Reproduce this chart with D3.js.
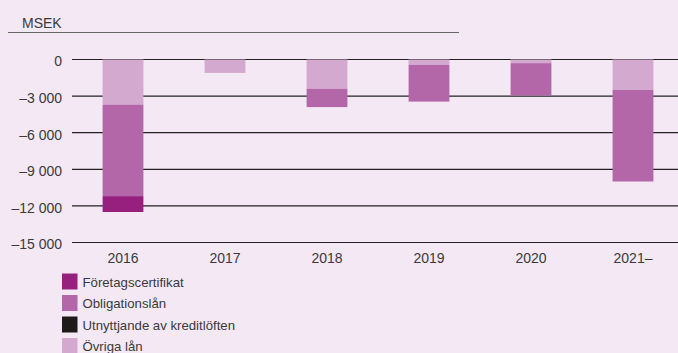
<!DOCTYPE html>
<html>
<head>
<meta charset="utf-8">
<script src="https://cdn.jsdelivr.net/npm/d3@7"></script>
<style>
  html, body { margin: 0; padding: 0; background: #f4e8f5; }
  svg { display: block; }
  text { font-family: "Liberation Sans", Arial, sans-serif; fill: #3a3a3a; }
</style>
</head>
<body>
<div id="chart"></div>
<script>
// Categories (years) and stacked series, MSEK
const years = ["2016", "2017", "2018", "2019", "2020", "2021–"];
const ovrigaLan = [-3700, -1100, -2400, -450, -300, -2500];
const utnyttjande = [0, 0, 0, 0, 0, 0];
const obligationslan = [-7500, 0, -1500, -3000, -2650, -7500];
const foretagscertifikat = [-1300, 0, 0, 0, 0, 0];
const yTicks = [0, -3000, -6000, -9000, -12000, -15000];

const seriesNames = ["Övriga lån", "Utnyttjande av kreditlöften", "Obligationslån", "Företagscertifikat"];
const seriesValues = [ovrigaLan, utnyttjande, obligationslan, foretagscertifikat];
const seriesColors = ["#d4a9d0", "#1e1a1a", "#b366a8", "#97207f"];
const legendOrder = [3, 2, 1, 0];

const W = 678, H = 353;
const svg = d3.select("#chart").append("svg").attr("width", W).attr("height", H);

const y = d3.scaleLinear().domain([-15000, 0]).range([242.5, 59.5]);
const x = d3.scaleBand().domain(years).range([72, 684]).paddingInner(0.6).paddingOuter(0.3);

// Unit label and header rule
svg.append("text").attr("x", 22).attr("y", 28).attr("font-size", 14).text("MSEK");
svg.append("line").attr("x1", 8).attr("x2", 459).attr("y1", 32.5).attr("y2", 32.5)
  .attr("stroke", "#666").attr("stroke-width", 1);

// Gridlines with tick labels
const fmt = v => (v < 0 ? "–" : "") + d3.format(",")(Math.abs(v)).replace(/,/g, " ");
const yAxis = d3.axisLeft(y).tickValues(yTicks).tickSize(0).tickPadding(0).tickFormat(fmt);
const gy = svg.append("g").attr("transform", "translate(62,0)").call(yAxis);
gy.select(".domain").remove();
gy.selectAll("text").attr("font-size", 14).attr("fill", "#3a3a3a").attr("y", 2)
  .style("font-family", "'Liberation Sans', Arial, sans-serif");

svg.append("g").selectAll("line").data(yTicks).join("line")
  .attr("x1", 72).attr("x2", W)
  .attr("y1", d => y(d)).attr("y2", d => y(d))
  .attr("stroke", "#222").attr("stroke-width", 1.2);

// Stacked bars (negative values stack downward from zero)
const rows = years.map((yr, i) => {
  const r = { year: yr };
  seriesNames.forEach((n, k) => r[n] = seriesValues[k][i]);
  return r;
});
const stack = d3.stack().keys(seriesNames).offset(d3.stackOffsetDiverging);
const layers = stack(rows);

svg.append("g").selectAll("g").data(layers).join("g")
  .attr("fill", (d, k) => seriesColors[k])
  .selectAll("rect").data(d => d).join("rect")
  .attr("x", d => x(d.data.year))
  .attr("width", x.bandwidth())
  .attr("y", d => y(Math.max(d[0], d[1])))
  .attr("height", d => Math.abs(y(d[0]) - y(d[1])));

// Category labels
const xAxis = d3.axisBottom(x).tickSize(0).tickPadding(0);
const gx = svg.append("g").attr("transform", "translate(0,263)").call(xAxis);
gx.select(".domain").remove();
gx.selectAll("text").attr("font-size", 14).attr("fill", "#3a3a3a").attr("dy", 0)
  .style("font-family", "'Liberation Sans', Arial, sans-serif");

// Legend
const lg = svg.append("g").selectAll("g").data(legendOrder).join("g")
  .attr("transform", (d, i) => `translate(62,${273.5 + i * 21.5})`);
lg.append("rect").attr("width", 15.5).attr("height", 16).attr("fill", k => seriesColors[k]);
lg.append("text").attr("x", 20.5).attr("y", 13).attr("font-size", 13.2).text(k => seriesNames[k]);
</script>
</body>
</html>
